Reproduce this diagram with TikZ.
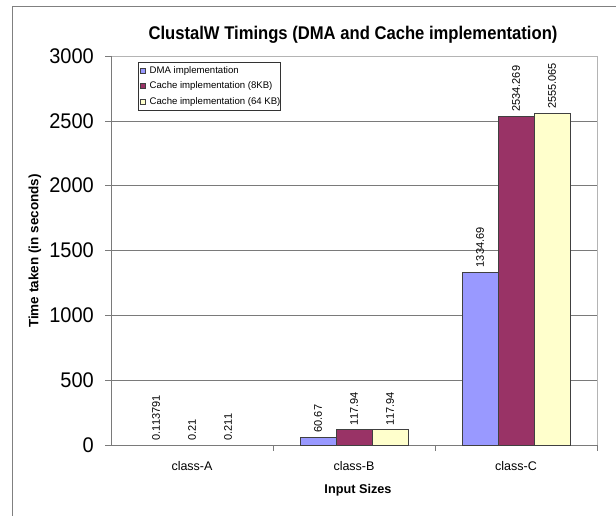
\documentclass[tikz,border=0pt]{standalone}
\usepackage{fontspec}
\setmainfont{Liberation Sans}
\definecolor{dmablue}{HTML}{9999FF}
\definecolor{cachered}{HTML}{993366}
\definecolor{cacheyel}{HTML}{FFFFCC}
\definecolor{gridc}{HTML}{7A7A7A}
\definecolor{borderc}{HTML}{B4B4B4}
\definecolor{framec}{HTML}{808080}
\newcommand\fsz[1]{\fontsize{#1}{#1}\selectfont}
\begin{document}
\begin{tikzpicture}[x=1pt,y=-1pt,
  bar/.style={draw=black!75, line width=0.7pt},
  vlabel/.style={rotate=90, anchor=west, inner sep=0pt, font=\fsz{11}},
  ticklab/.style={anchor=east, inner sep=0pt, font=\fsz{20}, yscale=1.06},
  catlab/.style={inner sep=0pt, font=\fsz{12.5}},
  legtext/.style={anchor=west, inner sep=0pt, font=\fsz{9.6}},
  legmark/.style={draw=black!75, line width=0.5pt, minimum size=5pt, inner sep=0pt}]
\useasboundingbox (0,0) rectangle (616,516);
\fill[white] (0,0) rectangle (616,516);
% outer chart frame
\draw[framec, line width=0.8pt] (12.5,516) -- (12.5,6.5) -- (616,6.5);
% title
\node[font=\fsz{17.5}\bfseries, inner sep=0pt, xscale=0.95, yscale=1.05] (title) at (353,35) {ClustalW Timings (DMA and Cache implementation)};
% gridlines and y ticks
\foreach \v/\lab in {0/0,500/500,1000/1000,1500/1500,2000/2000,2500/2500,3000/3000}{
  \pgfmathsetmacro\yy{445-0.129667*\v}
  \draw[gridc, line width=0.6pt] (105,\yy) -- (111,\yy);
  \node[ticklab] (yt\v) at (94,\yy) {\lab};
}
\foreach \v in {500,1000,1500,2000,2500}{
  \pgfmathsetmacro\yy{445-0.129667*\v}
  \draw[gridc, line width=0.6pt] (111,\yy) -- (597,\yy);
}
% plot border top and right
\draw[borderc, line width=0.8pt] (111,56) -- (597,56) -- (597,445);
% axes
\draw[gridc, line width=0.8pt] (111,56) -- (111,445) -- (597,445);
\foreach \x in {273,435,597}{
  \draw[gridc, line width=0.6pt] (\x,445) -- (\x,451);
}
% bars class-B
\draw[bar, fill=dmablue] (300,445) rectangle (336,437.13);
\draw[bar, fill=cachered] (336,445) rectangle (372,429.71);
\draw[bar, fill=cacheyel] (372,445) rectangle (408,429.71);
% bars class-C
\draw[bar, fill=dmablue] (462,445) rectangle (498,271.93);
\draw[bar, fill=cachered] (498,445) rectangle (534,116.38);
\draw[bar, fill=cacheyel] (534,445) rectangle (570,113.68);
% value labels
\node[vlabel] (va1) at (156,440.5) {0.113791};
\node[vlabel] (va2) at (192,440.5) {0.21};
\node[vlabel] (va3) at (228,440.5) {0.211};
\node[vlabel] (vb1) at (318,432.6) {60.67};
\node[vlabel] (vb2) at (354,425.2) {117.94};
\node[vlabel] (vb3) at (390,425.2) {117.94};
\node[vlabel] (vc1) at (480,267.4) {1334.69};
\node[vlabel] (vc2) at (516,111.9) {2534.269};
\node[vlabel] (vc3) at (552,109.2) {2555.065};
% category labels
\node[catlab] (ca) at (192,466) {class-A};
\node[catlab] (cb) at (354,466) {class-B};
\node[catlab] (cc) at (516,466) {class-C};
% axis titles
\node[font=\fsz{12.7}\bfseries, inner sep=0pt] (xtitle) at (358,490) {Input Sizes};
\node[font=\fsz{13.5}\bfseries, inner sep=0pt, rotate=90] (ytitle) at (35,251) {Time taken (in seconds)};
% legend
\draw[black!80, line width=0.7pt, fill=white] (138.5,62.5) rectangle (280.5,110);
\node[legmark, fill=dmablue] (m1) at (142.5,70.7) {};
\node[legmark, fill=cachered] (m2) at (142.5,86.2) {};
\node[legmark, fill=cacheyel] (m3) at (142.5,101.7) {};
\node[legtext] (l1) at (149.5,70.7) {DMA implementation};
\node[legtext] (l2) at (149.5,86.2) {Cache implementation (8KB)};
\node[legtext] (l3) at (149.5,101.7) {Cache implementation (64 KB)};
\end{tikzpicture}
\end{document}
